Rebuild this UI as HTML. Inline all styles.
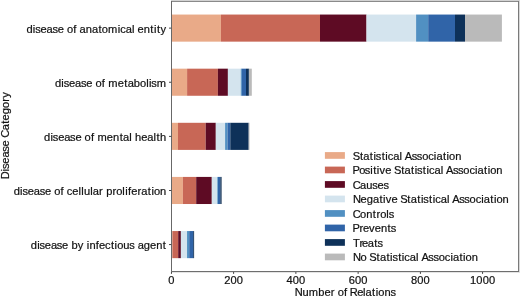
<!DOCTYPE html><html><head><meta charset="utf-8"><style>html,body{margin:0;padding:0;background:#fff;width:520px;height:297px;overflow:hidden}svg{display:block;will-change:transform}text{font-family:"Liberation Sans",sans-serif;font-size:10.30px;fill:#111;stroke:#111;stroke-width:0.2px}</style></head><body>
<svg width="520" height="297" viewBox="0 0 520 297">
<rect x="171.40" y="14.55" width="49.50" height="27.10" fill="#e9aa88"/>
<rect x="220.90" y="14.55" width="99.10" height="27.10" fill="#c86756"/>
<rect x="320.00" y="14.55" width="46.50" height="27.10" fill="#5e0b24"/>
<rect x="366.50" y="14.55" width="49.60" height="27.10" fill="#d4e4ee"/>
<rect x="416.10" y="14.55" width="12.10" height="27.10" fill="#5190c2"/>
<rect x="428.20" y="14.55" width="26.80" height="27.10" fill="#3064a8"/>
<rect x="455.00" y="14.55" width="10.00" height="27.10" fill="#0e3159"/>
<rect x="465.00" y="14.55" width="36.90" height="27.10" fill="#bababa"/>
<text transform="translate(26.40 32.60) scale(1.08 1)" x="0.04 5.93 8.15 13.05 18.66 24.13 29.03 34.73 37.54 43.38 46.44 49.26 54.96 60.66 66.68 69.83 75.66 84.52 86.87 91.90 97.69 100.12 102.95 108.66 114.78 118.13 120.90 124.25" y="0">disease of anatomical entity</text>
<rect x="171.40" y="68.67" width="15.70" height="27.10" fill="#e9aa88"/>
<rect x="187.10" y="68.67" width="30.80" height="27.10" fill="#c86756"/>
<rect x="217.90" y="68.67" width="10.00" height="27.10" fill="#5e0b24"/>
<rect x="227.90" y="68.67" width="12.90" height="27.10" fill="#d4e4ee"/>
<rect x="240.80" y="68.67" width="1.00" height="27.10" fill="#5190c2"/>
<rect x="241.80" y="68.67" width="4.20" height="27.10" fill="#3064a8"/>
<rect x="246.00" y="68.67" width="2.90" height="27.10" fill="#0e3159"/>
<rect x="248.90" y="68.67" width="2.90" height="27.10" fill="#bababa"/>
<text transform="translate(54.88 86.72) scale(1.08 1)" x="0.04 5.93 8.15 13.05 18.66 24.13 29.03 34.73 37.54 43.38 46.44 49.49 58.18 64.21 67.37 73.07 78.77 84.55 87.09 89.31 94.43" y="0">disease of metabolism</text>
<rect x="171.40" y="122.80" width="6.60" height="27.10" fill="#e9aa88"/>
<rect x="178.00" y="122.80" width="27.70" height="27.10" fill="#c86756"/>
<rect x="205.70" y="122.80" width="10.10" height="27.10" fill="#5e0b24"/>
<rect x="215.80" y="122.80" width="9.30" height="27.10" fill="#d4e4ee"/>
<rect x="225.10" y="122.80" width="2.40" height="27.10" fill="#5190c2"/>
<rect x="227.50" y="122.80" width="2.80" height="27.10" fill="#3064a8"/>
<rect x="230.30" y="122.80" width="18.40" height="27.10" fill="#0e3159"/>
<rect x="248.70" y="122.80" width="0.80" height="27.10" fill="#bababa"/>
<text transform="translate(44.04 140.85) scale(1.08 1)" x="0.04 5.93 8.15 13.05 18.66 24.13 29.03 34.73 37.54 43.38 46.44 49.49 58.18 63.88 70.00 73.16 78.95 81.39 84.30 90.01 95.62 101.41 104.19 107.44" y="0">disease of mental health</text>
<rect x="171.40" y="176.92" width="11.50" height="27.10" fill="#e9aa88"/>
<rect x="182.90" y="176.92" width="13.30" height="27.10" fill="#c86756"/>
<rect x="196.20" y="176.92" width="15.60" height="27.10" fill="#5e0b24"/>
<rect x="211.80" y="176.92" width="5.50" height="27.10" fill="#d4e4ee"/>
<rect x="217.30" y="176.92" width="0.70" height="27.10" fill="#5190c2"/>
<rect x="218.00" y="176.92" width="2.30" height="27.10" fill="#3064a8"/>
<rect x="220.30" y="176.92" width="1.40" height="27.10" fill="#0e3159"/>
<rect x="221.70" y="176.92" width="0.30" height="27.10" fill="#bababa"/>
<text transform="translate(13.61 194.97) scale(1.08 1)" x="0.04 5.93 8.15 13.05 18.66 24.13 29.03 34.73 37.54 43.38 46.44 49.26 54.30 60.10 62.64 65.08 70.97 73.32 79.15 82.76 85.68 91.61 95.14 100.72 103.26 105.85 108.84 114.68 118.21 124.23 127.58 129.92 135.62" y="0">disease of cellular proliferation</text>
<rect x="171.40" y="231.05" width="1.00" height="27.10" fill="#e9aa88"/>
<rect x="172.40" y="231.05" width="5.80" height="27.10" fill="#c86756"/>
<rect x="178.20" y="231.05" width="2.70" height="27.10" fill="#5e0b24"/>
<rect x="180.90" y="231.05" width="6.15" height="27.10" fill="#d4e4ee"/>
<rect x="187.05" y="231.05" width="2.15" height="27.10" fill="#5190c2"/>
<rect x="189.20" y="231.05" width="4.00" height="27.10" fill="#3064a8"/>
<rect x="193.20" y="231.05" width="0.90" height="27.10" fill="#0e3159"/>
<text transform="translate(30.77 249.10) scale(1.08 1)" x="0.04 5.93 8.15 13.05 18.66 24.13 29.03 34.73 37.65 43.54 48.84 51.85 54.30 60.24 63.22 68.84 74.28 77.63 79.98 85.67 91.23 96.21 99.03 104.73 110.44 116.15 122.27" y="0">disease by infectious agent</text>
<text transform="translate(168.26 284.20) scale(1.08 1)" x="0.04" y="0">0</text>
<text transform="translate(224.22 284.20) scale(1.08 1)" x="0.04 5.86 11.67" y="0">200</text>
<text transform="translate(286.46 284.20) scale(1.08 1)" x="0.04 5.86 11.67" y="0">400</text>
<text transform="translate(348.70 284.20) scale(1.08 1)" x="0.04 5.86 11.67" y="0">600</text>
<text transform="translate(410.94 284.20) scale(1.08 1)" x="0.04 5.86 11.67" y="0">800</text>
<text transform="translate(470.04 284.20) scale(1.08 1)" x="0.04 5.86 11.67 17.49" y="0">1000</text>
<rect x="171" y="0" width="349" height="1" fill="#d2d2d2"/>
<rect x="171" y="1" width="348" height="1" fill="#8a8a8a"/>
<rect x="171" y="1" width="1" height="271" fill="#686868"/>
<rect x="518" y="1" width="1" height="271" fill="#7a7a7a"/>
<rect x="519" y="0" width="1" height="273" fill="#d8d8d8"/>
<rect x="171" y="271" width="348" height="1" fill="#6e6e6e"/>
<rect x="171" y="272" width="349" height="1" fill="#e4e4e4"/>
<rect x="169" y="27.65" width="2.2" height="0.9" fill="#333"/>
<rect x="169" y="81.77" width="2.2" height="0.9" fill="#333"/>
<rect x="169" y="135.90" width="2.2" height="0.9" fill="#333"/>
<rect x="169" y="190.03" width="2.2" height="0.9" fill="#333"/>
<rect x="169" y="244.15" width="2.2" height="0.9" fill="#333"/>
<rect x="170.95" y="272" width="0.9" height="1.9" fill="#333"/>
<rect x="233.19" y="272" width="0.9" height="1.9" fill="#333"/>
<rect x="295.43" y="272" width="0.9" height="1.9" fill="#333"/>
<rect x="357.67" y="272" width="0.9" height="1.9" fill="#333"/>
<rect x="419.91" y="272" width="0.9" height="1.9" fill="#333"/>
<rect x="482.15" y="272" width="0.9" height="1.9" fill="#333"/>
<text transform="translate(295.00 295.80) scale(1.08 1)" x="-0.30 6.87 12.79 21.57 27.28 33.12 36.73 39.55 45.39 48.45 50.79 57.63 63.02 65.37 71.39 74.74 77.09 82.78 88.34" y="0">Number of Relations</text>
<text transform="translate(9.30 179.10) rotate(-90) scale(1.08 1)" x="-0.20 7.16 9.38 14.28 19.90 25.37 30.27 35.97 38.32 45.17 51.19 54.36 60.07 65.77 71.59 75.32" y="0">Disease Category</text>
<rect x="324.9" y="152.10" width="20" height="6.7" fill="#e9aa88"/>
<text transform="translate(353.30 159.80) scale(1.08 1)" x="-0.53 6.16 9.32 15.35 18.69 20.91 26.23 29.58 31.93 36.95 42.74 45.18 47.75 54.12 58.88 63.77 69.36 74.58 76.93 82.95 86.30 88.64 94.33" y="0">Statistical Association</text>
<rect x="324.9" y="166.60" width="20" height="6.7" fill="#c86756"/>
<text transform="translate(353.30 174.30) scale(1.08 1)" x="-0.68 5.44 10.58 15.66 18.44 21.79 24.33 29.55 35.25 37.60 44.30 47.46 53.48 56.83 59.05 64.36 67.71 70.06 75.09 80.88 83.31 85.89 92.25 97.01 101.90 107.50 112.71 115.06 121.09 124.43 126.78 132.47" y="0">Positive Statistical Association</text>
<rect x="324.9" y="181.10" width="20" height="6.7" fill="#5e0b24"/>
<text transform="translate(353.30 188.80) scale(1.08 1)" x="-0.53 6.32 12.01 17.58 22.48 27.96" y="0">Causes</text>
<rect x="324.9" y="195.60" width="20" height="6.7" fill="#d4e4ee"/>
<text transform="translate(353.30 203.30) scale(1.08 1)" x="-0.30 6.78 12.50 18.20 24.22 27.57 30.11 35.34 41.04 43.38 50.08 53.24 59.26 62.61 64.83 70.15 73.50 75.85 80.87 86.66 89.09 91.67 98.04 102.80 107.68 113.28 118.49 120.84 126.87 130.22 132.56 138.25" y="0">Negative Statistical Association</text>
<rect x="324.9" y="210.10" width="20" height="6.7" fill="#5190c2"/>
<text transform="translate(353.30 217.80) scale(1.08 1)" x="-0.53 6.31 12.00 18.13 21.51 25.04 30.62 32.84" y="0">Controls</text>
<rect x="324.9" y="224.60" width="20" height="6.7" fill="#3064a8"/>
<text transform="translate(353.30 232.30) scale(1.08 1)" x="-0.68 5.67 9.05 14.66 19.88 25.59 31.71 34.74" y="0">Prevents</text>
<rect x="324.9" y="239.10" width="20" height="6.7" fill="#0e3159"/>
<text transform="translate(353.33 246.80) scale(1.08 1)" x="-0.35 5.75 7.94 13.35 19.38 22.41" y="0">Treats</text>
<rect x="324.9" y="253.60" width="20" height="6.7" fill="#bababa"/>
<text transform="translate(353.30 261.30) scale(1.08 1)" x="-0.30 6.77 12.45 14.80 21.49 24.65 30.68 34.03 36.25 41.56 44.91 47.26 52.28 58.07 60.51 63.08 69.45 74.21 79.10 84.70 89.91 92.26 98.28 101.63 103.98 109.67" y="0">No Statistical Association</text>
</svg></body></html>
